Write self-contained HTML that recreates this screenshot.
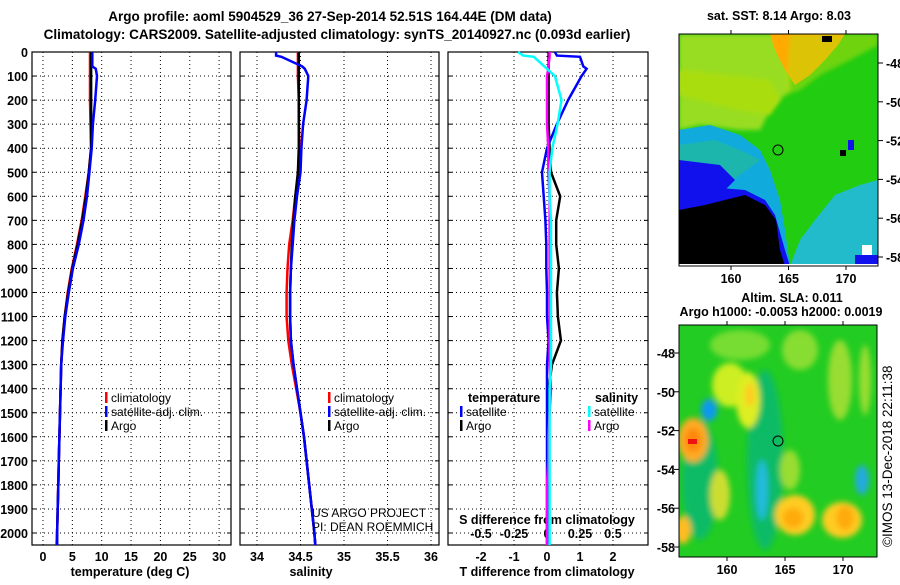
<!DOCTYPE html>
<html><head><meta charset="utf-8"><style>
body{margin:0;background:#fff;width:900px;height:580px;overflow:hidden}
svg text{font-family:"Liberation Sans",sans-serif}
.b{font-weight:bold;font-size:12.5px}
.t{font-weight:bold;font-size:13.5px}
.l{font-size:12px}
</style></head><body>
<svg id="c" width="900" height="580" xmlns="http://www.w3.org/2000/svg">
<defs>
<filter id="bl" x="-30%" y="-30%" width="160%" height="160%"><feGaussianBlur stdDeviation="3"/></filter>
<filter id="bl2"><feGaussianBlur stdDeviation="2"/></filter>
<clipPath id="m1c"><rect x="679" y="34" width="199" height="232"/></clipPath>
<clipPath id="m2c"><rect x="679" y="325" width="198" height="232"/></clipPath>
</defs>
<text class="t" x="330" y="21" text-anchor="middle">Argo profile: aoml 5904529_36 27-Sep-2014 52.51S 164.44E (DM data)</text>
<text class="t" x="337" y="39" text-anchor="middle">Climatology: CARS2009. Satellite-adjusted climatology: synTS_20140927.nc (0.093d earlier)</text>

<g id="panels"></g>

<!-- Map 1 -->
<g>
<text class="b" x="779" y="20" text-anchor="middle">sat. SST: 8.14 Argo: 8.03</text>
<g clip-path="url(#m1c)">
<rect x="679" y="34" width="199" height="232" fill="#22cc11"/>
<polygon points="679,34 790,34 790,90 770,110 760,130 740,130 700,125 679,130" fill="#99dd22" filter="url(#bl2)"/>
<polygon points="679,95 700,100 740,110 770,115 780,100 770,80 679,70" fill="#aadd11" filter="url(#bl2)"/>
<polygon points="770,34 845,34 838,45 825,60 810,75 795,85 785,70 775,50" fill="#ffaa00"/>
<polygon points="790,34 878,34 878,45 850,60 820,75 800,90 785,95" fill="#bbdd11" opacity="0.5" filter="url(#bl2)"/>
<polygon points="679,130 710,125 740,135 760,150 770,170 780,200 785,230 790,266 679,266" fill="#11aadd"/>
<polygon points="679,145 715,140 740,150 760,160 720,190 679,200" fill="#22bb99" opacity="0.7"/>
<polygon points="790,266 800,240 815,220 835,195 860,185 878,180 878,266" fill="#22bbcc"/>
<polygon points="679,160 720,165 735,180 725,190 679,205" fill="#1111ee"/>
<polygon points="679,195 720,188 745,190 765,200 775,215 785,250 790,266 679,266" fill="#1111ee"/>
<polygon points="679,210 705,205 745,195 765,205 776,220 780,250 785,266 679,266" fill="#000"/>
<rect x="862" y="245" width="10" height="12" fill="#fff"/>
<rect x="855" y="255" width="23" height="11" fill="#1111ee"/>
<rect x="840" y="150" width="6" height="6" fill="#000"/>
<rect x="848" y="140" width="6" height="10" fill="#1111ee"/>
<rect x="822" y="36" width="10" height="6" fill="#000"/>
<rect x="679" y="264" width="199" height="2" fill="#fff"/>
</g>
<rect x="679" y="34" width="199" height="232" fill="none" stroke="#000"/>
<circle cx="778" cy="150" r="5" fill="none" stroke="#000"/>
<g id="m1ticks"></g>
</g>

<!-- Map 2 -->
<g>
<text class="b" x="792" y="302" text-anchor="middle">Altim. SLA: 0.011</text>
<text class="b" x="781" y="316" text-anchor="middle">Argo h1000: -0.0053 h2000: 0.0019</text>
<g clip-path="url(#m2c)">
<rect x="679" y="325" width="198" height="232" fill="#22cc22"/>
<g filter="url(#bl)">
<ellipse cx="765" cy="460" rx="18" ry="90" fill="#11bb66"/>
<ellipse cx="700" cy="480" rx="18" ry="60" fill="#11bb66"/>
<ellipse cx="740" cy="345" rx="30" ry="15" fill="#77dd33"/>
<ellipse cx="730" cy="385" rx="18" ry="22" fill="#ccee22"/>
<ellipse cx="748" cy="400" rx="12" ry="28" fill="#ddee22"/>
<ellipse cx="750" cy="395" rx="5" ry="12" fill="#ffcc22"/>
<ellipse cx="693" cy="440" rx="15" ry="22" fill="#ffaa22"/>
<ellipse cx="693" cy="440" rx="8" ry="12" fill="#ff8811"/>
<ellipse cx="709" cy="410" rx="8" ry="11" fill="#1199ee"/>
<ellipse cx="762" cy="490" rx="6" ry="30" fill="#22bbdd"/>
<ellipse cx="795" cy="515" rx="20" ry="20" fill="#ffcc22"/>
<ellipse cx="793" cy="518" rx="10" ry="10" fill="#ffaa11"/>
<ellipse cx="842" cy="520" rx="20" ry="18" fill="#ffcc22"/>
<ellipse cx="845" cy="518" rx="9" ry="12" fill="#ffaa11"/>
<ellipse cx="683" cy="530" rx="8" ry="14" fill="#ffbb22"/>
<ellipse cx="862" cy="480" rx="7" ry="15" fill="#22aadd"/>
<ellipse cx="800" cy="350" rx="18" ry="20" fill="#88dd33"/>
<ellipse cx="840" cy="380" rx="12" ry="40" fill="#99dd33"/>
<ellipse cx="865" cy="380" rx="6" ry="35" fill="#99dd33"/>
<ellipse cx="720" cy="495" rx="10" ry="25" fill="#ccdd33"/>
<ellipse cx="790" cy="470" rx="10" ry="20" fill="#99dd33"/>
</g>
<rect x="688" y="439" width="9" height="5" fill="#ee1111"/>
</g>
<rect x="679" y="325" width="198" height="232" fill="none" stroke="#000"/>
<circle cx="778" cy="441" r="5" fill="none" stroke="#000"/>
<g id="m2ticks"></g>
<text x="0" y="0" style="font-size:13.5px" transform="translate(892,547) rotate(-90)">©IMOS 13-Dec-2018 22:11:38</text>
</g>
</svg>
<script>
// ---- Data ----
const depthTicks=[0,100,200,300,400,500,600,700,800,900,1000,1100,1200,1300,1400,1500,1600,1700,1800,1900,2000];
const tempTicks=[0,5,10,15,20,25,30];
const salTicks=[34,34.5,35,35.5,36];
const salTickLabels=["34","34.5","35","35.5","36"];
const tdTicks=[-2,-1,0,1,2];
const sdTickLabels=["-0.5","-0.25","0","0.25","0.5"];
const sdTicks=[-0.5,-0.25,0,0.25,0.5];
const depths=[0,15,20,60,70,100,200,300,400,500,600,700,800,900,1000,1100,1200,1300,1400,1500,1600,1700,1800,1900,2000,2050];
const tempArgo=[8.2,8.2,8.2,8.2,8.2,8.2,8.2,8.2,8.2,7.8,7.3,6.7,5.9,5.0,4.3,3.7,3.3,3.1,3.0,2.9,2.8,2.7,2.6,2.5,2.4,2.4];
const tempClim=[8.0,8.0,8.0,8.0,8.0,8.0,8.0,8.1,8.2,7.8,7.2,6.6,5.8,4.9,4.2,3.7,3.3,3.1,3.0,2.9,2.8,2.7,2.6,2.5,2.4,2.3];
const tempSat=[8.4,8.4,8.4,8.4,9.0,9.2,8.9,8.5,8.3,7.9,7.5,6.9,6.1,5.1,4.4,3.8,3.4,3.1,3.0,2.9,2.8,2.7,2.6,2.5,2.4,2.4];
const salArgo=[34.48,34.48,34.48,34.48,34.48,34.48,34.48,34.48,34.48,34.47,34.44,34.42,34.4,34.39,34.38,34.38,34.39,34.42,34.46,34.5,34.54,34.57,34.6,34.63,34.66,34.67];
const salClim=[34.47,34.47,34.47,34.47,34.47,34.47,34.48,34.48,34.49,34.48,34.44,34.41,34.37,34.35,34.34,34.34,34.36,34.4,34.45,34.5,34.54,34.57,34.6,34.63,34.66,34.67];
const salSat=[34.22,34.22,34.28,34.52,34.55,34.59,34.57,34.53,34.51,34.5,34.46,34.43,34.41,34.39,34.38,34.38,34.39,34.42,34.46,34.5,34.54,34.57,34.6,34.63,34.66,34.67];
const tDiffSat=[0.24,0.3,1.0,1.1,1.2,1.05,0.64,0.3,0.0,-0.15,-0.1,-0.05,-0.02,-0.02,0,0,0.05,0.0,0.0,0.0,0.0,0.0,0.0,0.0,0.0,0.0];
const tDiffArgo=[0.05,0.05,0.05,0.05,0.05,0.05,0.05,0.05,0.08,0.12,0.4,0.28,0.28,0.36,0.3,0.33,0.42,0.15,0.05,0.05,0.04,0.04,0.04,0.03,0.03,0.03];
const sDiffSat=[-0.22,-0.18,-0.1,-0.02,0.0,0.06,0.11,0.08,0.04,0.02,0.02,0.03,0.03,0.03,0.03,0.03,0.03,0.03,0.02,0.02,0.02,0.02,0.02,0.02,0.02,0.02];
const sDiffArgo=[0.02,0.02,0.02,0.01,0.01,0.0,0.0,0.0,0.01,0.01,0.02,0.02,0.02,0.02,0.02,0.02,0.02,0.02,0.03,0.02,0.01,0.01,0.0,0.0,0.0,0.0];
const latTicks=[-48,-50,-52,-54,-56,-58];
const lonTicks=[160,165,170];

const NS="http://www.w3.org/2000/svg";
const P=document.getElementById('panels');
function mk(tag,at,par){const e=document.createElementNS(NS,tag);for(const k in at)e.setAttribute(k,at[k]);(par||P).appendChild(e);return e;}
const TOP=52,BOT=545;
const yD=d=>TOP+d*0.2405;
const panels=[{x0:32,x1:231,name:'temperature'},{x0:240,x1:439,name:'salinity'},{x0:448,x1:648,name:'difference'}];
const xT=v=>43+v*5.87, xS=v=>257+(v-34)*87, xTD=v=>547+v*33, xSD=v=>547+v*132;

function grid(p,xs,gname){
  const g=mk('g',{});
  
  
  xs.forEach(x=>mk('line',{x1:x,x2:x,y1:TOP,y2:BOT,stroke:'#000','stroke-dasharray':'1,3','stroke-width':1},g));
  depthTicks.forEach(d=>{const y=yD(d);mk('line',{x1:p.x0,x2:p.x1,y1:y,y2:y,stroke:'#000','stroke-dasharray':'1,3'},g);
    mk('line',{x1:p.x0,x2:p.x0+4,y1:y,y2:y,stroke:'#000'},g);mk('line',{x1:p.x1-4,x2:p.x1,y1:y,y2:y,stroke:'#000'},g);});
  const r=mk('rect',{x:p.x0,y:TOP,width:p.x1-p.x0,height:BOT-TOP,fill:'none',stroke:'#000','stroke-width':1.2},g);
  
  
}
function line(vals,fx,color,name,w){
  const pts=depths.map((d,i)=>fx(vals[i]).toFixed(1)+','+yD(d).toFixed(1)).join(' ');
  const e=mk('polyline',{points:pts,fill:'none',stroke:color,'stroke-width':w||2.5});
  
  
}
function txt(s,x,y,cls,anchor,name){const e=mk('text',{x:x,y:y,class:cls,'text-anchor':anchor||'middle'});e.textContent=s;
  
  return e;}

// Panel 1
grid(panels[0],tempTicks.map(xT),'temperature-panel');
depthTicks.forEach(d=>txt(String(d),28,yD(d)+5,'b','end','depth-tick-label'));
tempTicks.forEach(v=>txt(String(v),xT(v),561,'b','middle','temperature-tick-label'));
txt('temperature (deg C)',130,576,'b','middle','temperature-axis-title');
line(tempClim,xT,'#ff0000','temperature-climatology-line');
line(tempArgo,xT,'#000','temperature-argo-line');
line(tempSat,xT,'#0000ff','temperature-satellite-line');
// Panel 2
grid(panels[1],salTicks.map(xS),'salinity-panel');
salTicks.forEach((v,i)=>txt(salTickLabels[i],xS(v),561,'b','middle','salinity-tick-label'));
txt('salinity',311,576,'b','middle','salinity-axis-title');
line(salClim,xS,'#ff0000','salinity-climatology-line');
line(salArgo,xS,'#000','salinity-argo-line');
line(salSat,xS,'#0000ff','salinity-satellite-line');
// Panel 3
grid(panels[2],tdTicks.map(xTD),'difference-panel');
tdTicks.forEach(v=>txt(String(v),xTD(v),561,'b','middle','t-diff-tick-label'));
txt('T difference from climatology',547,576,'b','middle','t-diff-axis-title');
sdTicks.forEach((v,i)=>txt(sdTickLabels[i],xSD(v),538,'b','middle','s-diff-tick-label'));
txt('S difference from climatology',547,524,'b','middle','s-diff-axis-title');
line(tDiffArgo,xTD,'#000','t-diff-argo-line');
line(tDiffSat,xTD,'#0000ff','t-diff-satellite-line');
line(sDiffArgo,xSD,'#ff00ff','s-diff-argo-line');
line(sDiffSat,xSD,'#00ffff','s-diff-satellite-line');

function leg(x,y,color,label){
  const r=mk('rect',{x:x,y:y-10,width:2.5,height:11,fill:color});
  
  
  txt(label,x+6,y,'l','start','legend-entry');
}
[[105,'#ff0000','climatology'],[105,'#0000ff','satellite-adj. clim.'],[105,'#000','Argo']].forEach((a,i)=>leg(a[0],402+i*14,a[1],a[2]));
[[328,'#ff0000','climatology'],[328,'#0000ff','satellite-adj. clim.'],[328,'#000','Argo']].forEach((a,i)=>leg(a[0],402+i*14,a[1],a[2]));
txt('temperature',468,402,'b','start','legend-temperature-heading');
txt('salinity',595,402,'b','start','legend-salinity-heading');
leg(460,416,'#0000ff','satellite');leg(460,430,'#000','Argo');
leg(588,416,'#00ffff','satellite');leg(588,430,'#ff00ff','Argo');
txt('US ARGO PROJECT',312,517,'l','start','credit-project');
txt('PI: DEAN ROEMMICH',312,531,'l','start','credit-pi');

// map ticks
function mapTicks(id,yTop,yBot,latY,lonX,side){
  const g=document.getElementById(id);
  latTicks.forEach(l=>{const y=latY(l);
    if(side==='right'){mk('line',{x1:878,x2:883,y1:y,y2:y,stroke:'#000'},g);}
    else{mk('line',{x1:674,x2:679,y1:y,y2:y,stroke:'#000'},g);}
    const t=mk('text',side==='right'?{x:886,y:y+5,class:'b'}:{x:675,y:y+5,class:'b','text-anchor':'end'},g);t.textContent=String(l);
    
    });
  lonTicks.forEach(l=>{const x=lonX(l);mk('line',{x1:x,x2:x,y1:yBot,y2:yBot+4,stroke:'#000'},g);
    mk('line',{x1:x,x2:x,y1:yTop-4,y2:yTop,stroke:'#000'},g);
    const t=mk('text',{x:x,y:yBot+17,class:'b','text-anchor':'middle'},g);t.textContent=String(l);
    
    });
}
mapTicks('m1ticks',34,266,l=>63+(-48-l)*19.4,l=>731+(l-160)*11.5,'right');
mapTicks('m2ticks',325,557,l=>353+(-48-l)*19.4,l=>727+(l-160)*11.6,'left');
</script>
</body></html>
